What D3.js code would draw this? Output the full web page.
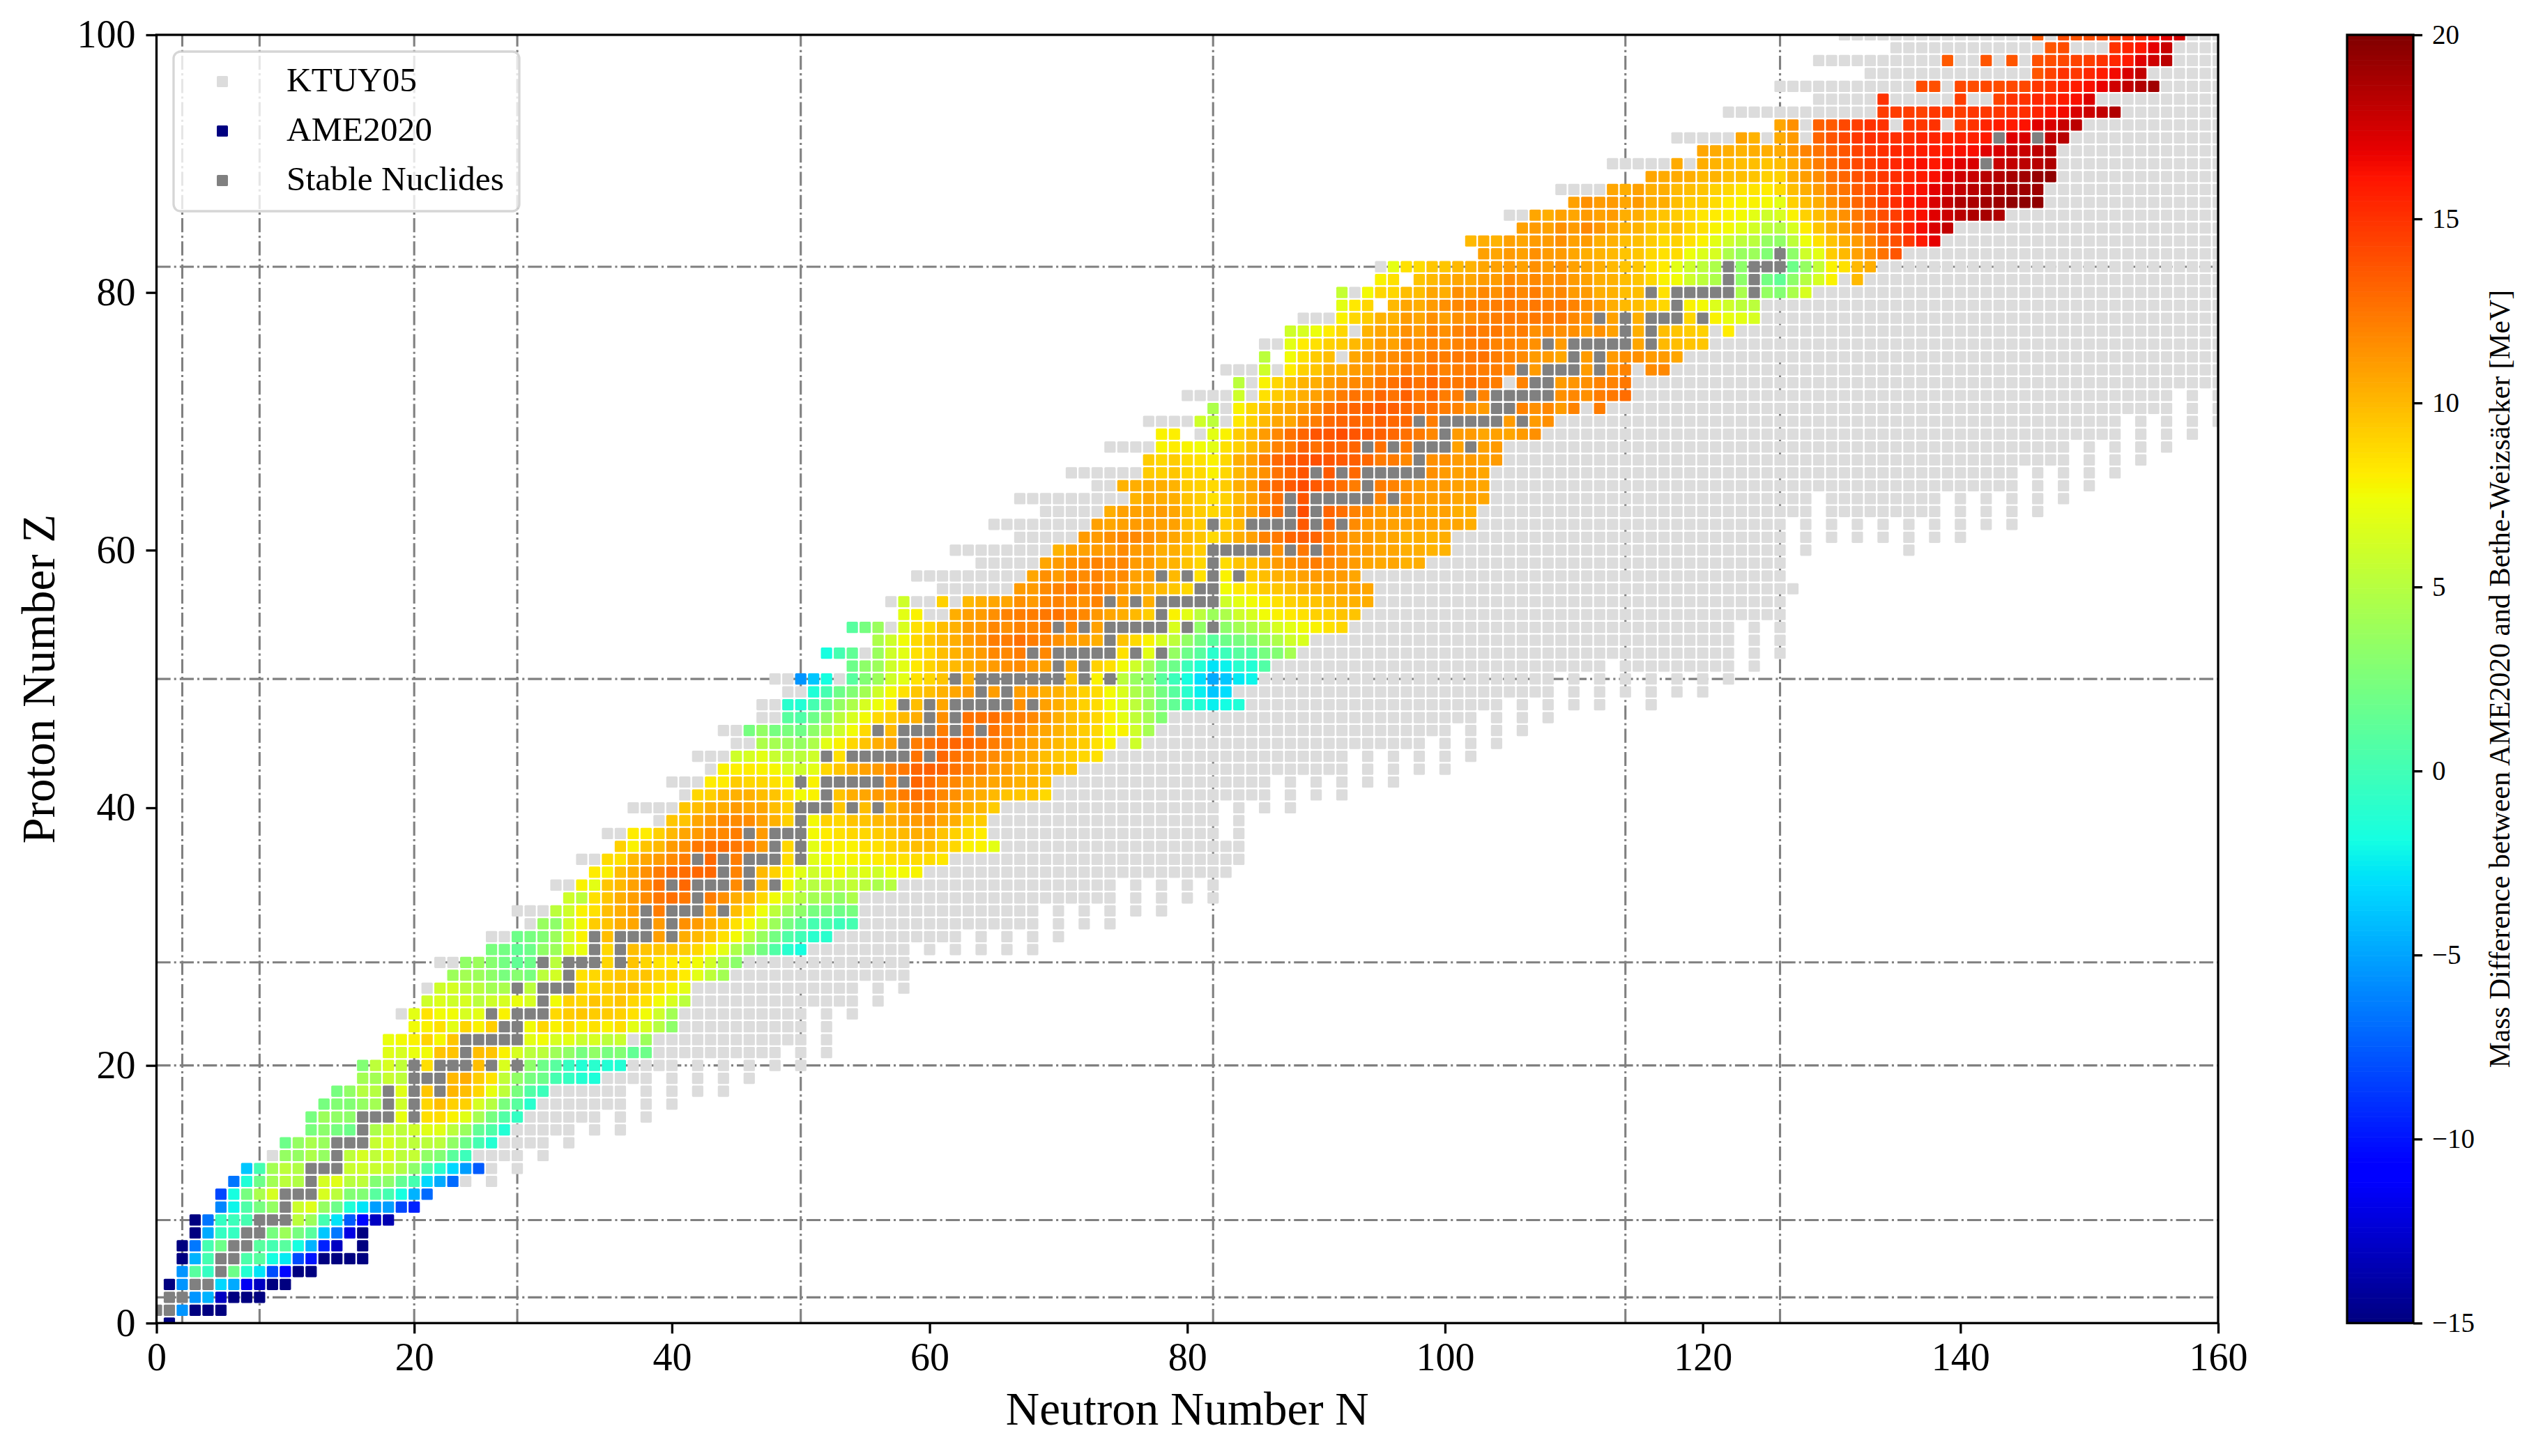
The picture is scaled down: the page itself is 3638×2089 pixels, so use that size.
<!DOCTYPE html>
<html><head><meta charset="utf-8"><title>Mass difference chart</title>
<script src="https://cdn.jsdelivr.net/npm/d3@7"></script>
<style>html,body{margin:0;padding:0;background:#fff}svg{display:block}text{font-family:"Liberation Serif","Times New Roman",serif;fill:#000}</style>
</head><body><div id="chart"></div>
<script>
const xTicks=[0,20,40,60,80,100,120,140,160];
const yTicks=[0,20,40,60,80,100];
const colorTicks=[-15,-10,-5,0,5,10,15,20];
const magicN=[2,8,20,28,50,82,114,126];
const magicZ=[2,8,20,28,50,82];
const legendLabels=["KTUY05","AME2020","Stable Nuclides"];
const axisLabels={x:"Neutron Number N",y:"Proton Number Z",color:"Mass Difference between AME2020 and Bethe-Weizsäcker [MeV]"};
// [Z, first N, values in MeV per consecutive N; s = stable nuclide, _ = no AME2020 mass]
const ameRows=[
[0,1,"-15"],
[1,0,"s s -5.5 -15 -15 -15"],
[2,1,"s s -5.5 -4.5 -13 -15 -15 -15"],
[3,1,"-15 -5.5 s s -3.2 -4.8 -11.5 -13 -15 -15"],
[4,2,"-5.5 1 -.5 s 1.9 -1.2 -2.8 -8 -10.5 -15 -15"],
[5,2,"-15 -4.5 .2 s s .5 1 -1.8 -2.6 -8 -10 -15 -15 -15 -15"],
[6,2,"-15 -6.5 .2 1.9 s s 1 .2 1 -1.8 -4.5 -9.5 -13 _ -15"],
[7,3,"-15 -4.8 -.5 -.5 s s 2.3 3.9 2.3 1 -3.8 -6.5 -12 -15"],
[8,3,"-15 -6.6 -.5 -.2 .2 s s s 5.2 3.9 .2 -2.8 -7.5 -10.5 -13 -13.5"],
[9,5,"-6 -2.2 .6 2.3 3.6 s 5.9 6.7 3.6 1.9 -1.4 -2.8 -5.2 -5.2 -8.2 -9.5"],
[10,5,"-8.2 -1.8 2.3 4.5 6.3 s s s 6.4 5.2 2.8 2.8 1 .2 -1.8 -4.5 -7"],
[11,6,"-6.6 -1.4 1.9 4.2 5.2 4.8 s 6.3 6.8 5.1 5.3 2.8 3.3 1.4 .2 -3.2 -4.8 -7"],
[12,7,"-3.8 .2 4.2 5.3 4.8 s s s 5.8 6 5.8 5.7 4.8 3.3 .7 -1 -3.2 -5.2 -7.5"],
[13,10,"3.6 3.6 4.6 3.6 s 5.3 6.3 5.4 6.5 5.3 5.6 3.4 2.8 1.1 -.2"],
[14,10,"1.9 3.6 4.5 3.8 s s s 5.7 6.3 5.4 5.3 5.2 5.2 3.4 1.9 .2 -1.2"],
[15,12,"2.4 3.2 2.3 1.9 s 4.6 5.7 5.3 6 6.8 6.8 5.2 3.8 1.4 .6 -1.3"],
[16,12,"2.3 3.9 3.4 3.3 s s s 7.1 s 8.6 8.7 7.9 6.8 4.3 2.3 .7 -.6"],
[17,13,"2.3 2.8 2.8 3.6 4.2 s 6 s 8.9 9.8 9.1 9.1 6.3 5 2.4 1 -1"],
[18,14,"2.3 3.4 5 5 s 6.8 s 9.5 s 10.1 9.8 8.9 7.1 5.3 2.4 .7 -.2"],
[19,16,"4.2 4.2 5.7 5.3 s s s 10 10.4 9.2 8.4 5.4 3.4 2.3 1.9 .2 -.5 -1.2 -1.5"],
[20,16,"2.8 5.3 6.4 5.4 s 8.6 s s s 9.8 s 6.5 s 3.3 1.9 1 -.5 -1.3 -1 -1.3 -1.3"],
[21,18,"6.8 6.4 7.2 7.5 9.6 9.6 s 9.8 9.6 7.9 6.4 5.2 5.2 4 3.4 2.3 3.4 2.3 2.8 1.4 1.9"],
[22,18,"7.2 7.6 7.9 9 7.7 9.5 s s s s s 6.9 7.5 6.4 6.9 5.8 6.4 5.2 5.8 _ 3.9"],
[23,20,"7.5 7.9 8.5 6.9 8.9 7.9 9.2 s s 7.5 8.9 7.9 8.8 7.9 8.5 7.9 8.6 6.9 6.4 5 3.3"],
[24,20,"6.9 8.4 7.5 7.5 6.4 6.9 s 7.9 s s s 8.8 9.3 9.5 9.3 9.3 9.1 8.5 7.5 6 4.2"],
[25,21,"6 6.6 6 6.4 5.2 6 6.4 7.2 6.4 s 7.5 9.1 8.9 9.6 9.1 9.6 8.9 8.5 7.5 6.4 5.2"],
[26,22,"6 6.3 5.2 5.2 4.2 4.5 s 5.2 s s s 8.9 8.9 9.3 9.5 9.8 8.9 8.5 7.9 6.9"],
[27,23,"3.9 4.2 3.9 3.3 2.4 3 2.4 5.2 6.2 s 8.5 8.9 9.1 9.6 9.3 9.6 8.9 9.1 8.1 6.9 5.3 4.2"],
[28,24,"3.4 3.9 3 2.2 1.4 1.9 s 5.2 s s s 8.9 s 9.6 8.9 8.4 8.1 7.9 7.5 6.2 4.6 3.2"],
[29,26,"2.4 2.2 1.4 1.9 3.4 3.9 6.4 7.2 s 8.9 s 9.8 9.6 9.5 9.6 9.3 8.9 7.9 6.9 4.6 3.4 2.2 .7 -1 -1.8"],
[30,28,"1.9 2.3 2.8 3.9 6.3 7.9 s 9.8 s s s 11 s 10.4 10 9.5 8.5 7.6 5.3 3.7 2.2 .7 0 -1 -1"],
[31,30,"3.7 3.3 6.1 7.6 9.3 9.6 10.4 10.7 s 11.1 s 11.5 11.1 10.4 9.8 8.5 7.6 6 3.9 2.3 1.4 .2 .5 -.2 .2"],
[32,31,"5.2 6 7.9 8.5 9.8 10.4 11 s 12.2 s s s 11 s 9.8 8.9 7.3 5.3 3.9 3.3 2.3 2.4 1.9 2.3"],
[33,32,"6 5.3 8.5 9.5 10.4 11 11.7 12.4 12.7 12.4 s 12.2 11.5 10.4 10 8.8 7.5 6 5 4.2 4.4 3.5 4.6"],
[34,33,"7.9 6.9 9.5 10 10.9 11.7 12.6 s 13 s s s 11.7 s 10 s 7.6 5.6 5 5.5 5 5.5 5.2 4.5 5"],
[35,34,"8.1 7.9 9.8 10.4 11.5 12.2 12.8 12.8 13 13 s 12 s 10 9.1 7.9 6.8 6 6.9 7.6 6 6.8 6 7.3 7.6 7.8"],
[36,35,"8.7 8.5 10 10.7 11.1 11.7 12.2 s 13 s 12.2 s s s 8.7 s 6.8 7.5 7.5 7.9 7.8 8.1 8.5 8.5 8.7 8.7 8.3"],
[37,36,"9.1 7.9 9.6 10 11.1 11.5 12.4 12.6 12.8 12.4 12.2 11.1 s 8.9 s 6.9 8.1 7.9 7.9 8.5 8.5 9.1 9.3 9.8 9.8 9.1 8.9 7.9 7.9 6.9"],
[38,37,"8.1 8.1 9.1 10 10.7 11.1 11.8 11.8 12.2 s 11.1 s s s 7.6 8.1 8.5 8.9 8.9 9.3 9.6 10 10.4 10.4 9.6 9.1 8.7 8.1"],
[39,40,"9.5 9.6 10.7 11.1 11.8 11.7 11.7 10.9 10.3 9.1 s 7.6 9.1 8.9 9.6 9.6 10 10.4 10.7 11.1 11.5 10.7 10.4 9.3 9.3"],
[40,41,"9.5 9.8 10.4 10.4 11.1 10.7 10.7 9.8 9.1 s s s 9.5 s 9.8 s 10.3 11.1 11.8 11.8 11.1 10.7 10.3 10 9.3"],
[41,42,"8.9 9.1 10 10.3 10.3 9.8 9.6 8.5 7.5 7.9 s 9.6 10.4 10.7 11.1 11.5 12.2 12.7 12.6 11.8 11.5 10.7 10.4 10 9.6 9.5 9.6 8.8"],
[42,43,"8.1 8.1 9.3 8.9 8.9 8.5 7.9 s 7.9 s s s s s 11.8 s 13.1 12.7 12 11.8 11.1 11.1 10.7 10.7 10.3 10.3 9.6"],
[43,44,"7.9 8 8.1 7.9 7.7 6.4 6 6.9 8.9 9.5 10.3 10.9 11.1 12 12.4 13.1 13.3 13.1 12.6 12.2 12 11.1 11.1 10.4 10.4 10 9.8 9.6"],
[44,45,"6 6.3 6.9 5.7 5.2 5.2 6 s 8.5 s s s s s 12.6 s 13 12.6 12.2 11.8 11.7 11.1 10.7 10.4 9.8 9.5 9.3 8.9 8.5"],
[45,47,"4.6 4.3 3.9 3.6 4.6 6.9 7.9 8.9 9.6 10.4 10.9 s 12.2 12.6 13 13.1 13 12.7 12.2 12 11.1 10.9 10.4 10 9.6 9.3 8.5 7.9 _ 6"],
[46,46,"2.3 3.5 2.3 2.4 2 3.3 4.6 6 7.5 8.8 s 10 s s s 12.2 s 12.6 s 12.6 11.8 12 11.1 10.7 10.3 9.8 9.3 8.9 7.6 7.9 6 4.3"],
[47,49,"1 .6 1.9 3.4 5.2 6.4 7.6 8.8 9.3 10 10.4 s 11.5 s 12.6 12.6 12.7 12.2 12.2 11.8 11.1 10.4 9.8 9.5 8.9 8.1 6.9 5.4 4.3 2.8"],
[48,49,"-1 -1.3 .2 1.9 3.6 4.6 6.4 7.3 8.1 s 9.8 s 10.7 s s s s s 11.5 s 10.9 10.4 9.8 9.1 8.7 7.6 6.8 5.3 3.9 2.3 1.4 -.6 -1.4 -2.4 -1.9 -1.4"],
[49,51,"-1.4 .2 1.9 2.8 4.2 6 7.6 8.5 9.5 9.8 10.3 10.7 11.1 s 11 s 11 11 10.4 10.3 9.8 9.1 8.7 7.6 6.5 4.6 3.9 2.2 1 -1 -2.4 -3.8 -3"],
[50,50,"-5.5 -3.8 -1.8 _ 1 2.8 3.9 6 6.9 8.5 8.9 9.6 s 10.3 s s s s s s s 9.5 s 7.9 s 5.2 3.7 3.2 1 -.2 -1.8 -3 -4.8 -3.8 -2.6 -2.2"],
[51,54,"1.9 3.3 3.9 6 6.9 8.2 9 9.6 10 10.4 10.7 11.1 11.5 11.7 11.1 10.9 s 10.4 s 9.1 8.6 7.5 6 4.3 2.3 1.9 -.2 -1.4 -2.8 -2.3 -1 -1.3 .7"],
[52,52,"-1.8 .2 1.4 _ 3.8 6 6.9 8.5 8.9 9.8 10.3 10.7 11.1 11.8 11.8 12.2 s 11.8 s s s s s 8.5 s 6.9 s 3.6 1.9 1 -1 -.2 1 .7 2.3 2.8 4.3"],
[53,56,"4.6 6 7.5 8.8 9.5 10 10.4 11.1 11.5 12.2 12.2 12.7 12.2 12 11.5 11.1 10.9 10.4 s 9.6 8.8 7.9 6.4 5.3 3.5 2.3 1 1.9 2.3 2.8 3.9 4.6 6 6.5"],
[54,54,"1 2.3 3.8 _ 6.5 8.5 8.9 9.8 10.3 11.1 11.1 11.8 11.5 12 11.9 12.2 s 11.8 s 10.9 s s s s s 6.5 s 3.4 s 3.3 4.2 4.6 5.3 6.4 6.9 7.5 7.9 8.5 8.9"],
[55,58,"6.9 7.9 _ _ 10.4 10.9 11.1 11.5 12 12.2 12.2 12.4 12.6 12.2 11.8 11.2 10.7 10.4 10 9.2 s 7.9 6.9 5.2 3.9 4.6 6 6.4 7.5 7.9 8.2 8.5 9.1 9.1 9.6 9.6"],
[56,58,"6 _ _ 9.1 _ 10 10.4 10.7 10.7 11.5 11.1 11.8 12 11.7 11.5 12 s 11 s 10.4 s s s s s 6 6.9 7.5 7.9 8.5 9.1 9.3 9.6 10 10.3 10.3 10.4"],
[57,67,"11.1 11.1 11.7 12 12.4 11.8 12 11.7 11.1 10.7 10.4 10 9.5 8.9 s s 7.5 8.2 8.5 9.3 9.5 9.8 10.3 10.4 10.7 10.7 10.9 10.7"],
[58,68,"10.7 11.5 11.1 11.8 11.7 12 11.5 11.7 10.9 10.9 s 10 s 8.5 s 7.9 s 9.3 9.8 10.3 10.4 10.9 11.1 11.1 11.1 10.7"],
[59,69,"10.7 11.1 11.5 11.7 12 11.8 11.8 11.1 11.1 10.4 10.2 9.6 8.9 s 8.7 9.6 9.8 10.4 11.1 11.5 11.8 12.2 11.8 11.5 11.1 10.7 10.6 10.7 10.3 10.4"],
[60,70,"10.2 10.9 10.9 11.1 11.1 11.7 11.1 11.1 10.4 10.4 9.8 9.3 s s s s s 11.5 s 12.4 s 12.2 11.7 11.1 11.1 10.7 10.7 10.4 10.4 10.2 10.2"],
[61,72,"11.1 11.1 11.5 11.8 11.8 11.5 11.1 10.7 10 9.5 8.8 9.5 10.4 10.9 12 12.4 13.1 13.3 13.1 12.2 11.7 11.1 11.1 10.7 10.7 10.2 10.4 10.2 10.4"],
[62,73,"10.9 10.7 10.9 11.1 11.1 10.9 10.9 9.8 9.3 s 9.3 10 s s s s 13.5 s 13 s 11.7 11.1 11.1 10.9 10.9 10.9 10.9 10.7 10.7 10.4"],
[63,74,"10.4 10.9 10.9 10.9 11.1 10.7 9.8 9.3 8.9 9.3 10.4 10.9 12.2 12.7 s 14 s 13.1 12.7 12 11.7 11.1 11.1 11.1 10.9 10.7 10.9 10.4 10.4"],
[64,76,"10.2 10.7 10.4 10.4 9.6 9.3 8.5 9.1 10 10.7 11.8 12.7 s 13.7 s s s s s 12 s 11.5 11.1 11 11.1 10.7 10.9 10.7"],
[65,75,"10.2 10.4 10.4 10.4 10.2 9.3 9.1 8.8 9.3 10.4 10.9 12.6 13 13.5 14 13.5 13.3 12.7 12.2 s 12.2 12 11.5 11.1 11.1 11.1 10.9 10.9 10.7"],
[66,77,"9.3 9.1 9.5 8.9 8.8 7.9 8.9 10 10.7 11.5 12.6 13 13.7 s 13.5 s 13 s s s s s 11.5 11.1 10.9 11.1 10.7"],
[67,77,"9.3 8.9 9.3 8.7 8.5 7.9 8.9 10.4 10.9 12.2 13 13.5 13.7 13.9 13.7 13.5 13.3 13 12.3 12.3 11.8 s 11.5 11.5 11.1 11.1 10.9 11.1"],
[68,78,"7.8 8.1 7.8 7.5 6.9 8.5 9.1 10 10.9 12 12.2 13.3 12.7 13.3 13.1 13.1 s 12.7 s 12.3 s s s 10.9 s 10.9 11.1"],
[69,78,"7.9 8 _ _ 6.9 7.9 9.3 10 11.1 11.8 12.7 13.1 13.7 13.7 14 13.7 13.5 13.3 13 12.7 12.3 11.8 s 11.1 11.1 10.7 10.9 10.7 11.1 11.5"],
[70,81,"6 5.3 _ 8.2 9.1 10 10.7 10.7 11.8 12.2 13 13.1 13.1 12.7 13.3 13 13 s 12.2 s s s s s 11.1 s 11.1 11.5"],
[71,82,"4.6 _ 7.9 8.9 9.8 10.4 10.7 11.1 11.8 12.6 13 13.1 13.3 13.5 13.3 13 12.7 12.6 12.2 12 11.5 11.1 s s 12 11.5 11.8 11.1 12 _ 12.2"],
[72,84,"6 _ 8.5 9.3 9.8 10.4 10.9 11.5 12.2 12.6 12.2 13 12.6 13.3 12.4 13 12.2 12.2 s 12 s s s s s 11.5 11.8 11.5 12.2 12.4 12.8"],
[73,84,"5.2 _ 7.9 8.9 9.6 10.2 10.4 11.1 11.5 11.8 11.8 12.4 12.7 13.1 12.6 13.1 12.6 12.4 12.7 12.4 12.2 _ 12 s s 11.1 11.3 11.5 12 12 12.4"],
[74,86,"6 _ 8.1 9.1 9.5 10.4 10.4 11.1 11.1 11.8 11.7 12.4 12 12.6 12 12.2 12.4 12.2 12.2 12 s 11.1 s s s 11.1 s 11.5 12 _ 11.7 11.8"],
[75,86,"5.2 _ 7.5 8.5 9.3 9.8 _ 10.7 11.1 11.5 11.7 12 11.8 12.4 12.2 12.4 12.4 12.6 12.2 12 11.7 11.1 11.1 10.7 s 11.1 s 11.1 11.5 11.5 11.1 11.1 10.7"],
[76,88,"6.9 8.1 8.5 9.1 9.3 10 10.4 11.1 10.9 11.8 11.5 12 11.7 12 12.2 12.4 12 12 11.8 11.5 s 11.1 s s s s s 10.7 s 10 9.8 9.6 9.5"],
[77,88,"6 6.4 7.3 8.1 8.9 _ 10.2 10.7 10.7 11.5 11.1 12 11.5 12 12.4 12.2 12.4 12 12.2 11.5 11.8 11.5 11.5 11.1 11.5 10.9 s 10.4 s 9.8 9.6 9.3 9.1 _ 8.1"],
[78,92,"7.9 8.9 9.3 10.2 10.2 11.1 10.7 11.5 10.9 11.5 11.5 12 12.2 12.4 12.2 12.4 12.2 12.4 11.8 11.5 s 10.9 s 10.4 s s s 8.9 s 7.9 7.1 6.9 6.4"],
[79,92,"6.9 8.2 8.9 _ 10 10.7 10.4 11.1 11.5 11.8 12.2 12 12.2 12.4 12.2 12.4 12.2 12.4 12 11.5 11.1 10.4 10 9.8 9.5 8.9 s 7.9 7.6 6.6 6 5.3 5.2"],
[80,92,"5.6 _ 7.6 8.9 8.9 9.8 9.8 10.7 10.4 11.5 11.1 11.8 11.5 12.2 11.8 12.2 11.5 11.8 11.1 11.1 10.4 10.3 9.8 9.8 s 8.5 s s s s s 4.5 s 3.6 2.9 4.5 6.4"],
[81,95,"7.9 8.5 _ 9.6 10 10.4 10.7 10.7 11.1 11.1 11.8 11.5 11.8 11.5 11.7 11.1 10.9 10.4 10.3 9.8 9.6 8.9 7.9 7.5 6 5.3 4.6 s 3.3 s 2.2 1.4 3.3 5 6.3 7.9 _ 10"],
[82,96,"7 8.5 8.7 9.5 9.5 10 10.2 10.7 10.9 11.1 10.9 11.5 11.1 11.5 10.9 10.7 10.4 10 9.6 9.5 8.5 8.1 6.9 6 5.3 4.6 s 3.3 s s s 1.9 3.6 5.5 7.9 8.5 10 10.4"],
[83,103,"10.9 10.7 11.1 10.9 11.5 11.1 11.1 10.7 10.4 10.2 10 9.6 9.5 8.9 8.5 8.7 7.3 6.6 6.4 4.6 3.7 3.9 2.8 s 3.3 6 6.9 9.3 10 10.9 11.5 12.6 13.7"],
[84,102,"10 10.4 10.2 10.9 10.7 11.1 11.1 11.5 10.9 11.1 10.4 10.3 9.8 9.8 9.3 8.7 9.1 8.5 7.9 6.9 6 5.3 5.2 3.6 3.4 5.3 7.3 8.5 9.6 10.4 11.1 12 13 13.9 14.8 15.9 16.9"],
[85,106,"10.9 11.1 10.9 11.5 11.1 11.8 11.3 10.7 10.2 10.2 9.6 9.3 9.8 8.9 8.5 7.8 7.6 6.9 6.2 5.3 5 6.4 8.1 9.5 10.5 11.2 12.2 12.8 13.9 14.6 15.5 16.4 17.3 18"],
[86,107,"10.7 10.4 10.9 10.7 11.1 10.9 11.1 10.4 10.4 9.8 9.6 9.3 8.9 8.3 8.1 7.9 7.6 6.9 6 6.4 7.9 9.1 9.8 10.7 11.5 12.4 13.1 14 14.6 15.5 16.3 17.1 17.7 18.3 18.6 18.8 18.6"],
[87,110,"10.9 11.5 11.1 11.1 10.7 11.1 10.4 10.4 9.8 9.3 9.3 8.7 8.1 7.8 7.9 7.6 6.9 9.1 9.8 10.4 11.5 12.2 13.1 13.7 14.6 15.2 16 16.3 17.3 17.9 18.6 18.7 19 19.1 19.5 19.6 19.5"],
[88,113,"10.7 10.4 10.9 10.4 10.4 10 9.8 9.6 9.1 8.9 8.4 8.4 8.1 8.7 9.8 10.4 11.1 12.2 12.6 13.5 14 14.8 15.2 15.9 16.3 17 17.6 18 18.3 18.6 18.8 19.1 19.1 19.1"],
[89,116,"10.7 10.5 10.5 10.4 10 10.2 9.8 9.8 9.6 9.1 9.1 10.4 11 11.6 12.6 13.1 13.9 14.2 14.8 15.2 15.5 15.9 16.3 17.2 17.6 17.8 18.3 18.4 18.8 19 19.3 19.5"],
[90,118,"10.5 _ 10.4 10.2 10 9.8 9.8 9.6 9.8 10.5 11.3 12.2 13 13.6 14.2 14.6 15.2 15.4 15.9 16.3 16 16.5 17.1 17.3 s 17.8 18 18.2 18.3 18.6"],
[91,120,"10.7 10.5 10.4 10.2 10.4 10.4 10.5 11.2 12 12.6 13.3 13.7 14.4 14.8 15.2 15.4 15.6 15.8 15.8 15.9 16.3 16.3 17.1 17.3 17.8 17.8 18.1 18.4"],
[92,123,"10.7 10.2 _ 10.5 11.1 _ 13.1 13.7 14.2 14.8 15.2 15.2 15.1 15.2 15.5 15.5 15.5 15.6 15.6 15.9 s 17.1 17.3 s 18 18.3"],
[93,126,"10.7 11.5 _ 13.3 13.5 14.2 14.6 15 15 _ 14.8 14.8 15 _ 14.6 15 15.5 15.8 15.9 16.2 17.1 17.3 17.8 18.2"],
[94,134,"14.6 14.6 14.6 14.4 14.8 14.6 14.6 14.8 14.8 14.8 15 15.2 15.5 16 16.5 17.3 17.7 18 18.5"],
[95,134,"15 _ _ _ _ _ 14.6 _ _ 14.4 15 15 15.4 15.4 15.9 16.3 17.2"],
[96,137,"14 13.9 _ 14.2 14 14.2 14 14.2 14.2 14.8 15 15.5 15.9 16.3 16.8 17.6 18 18.5 19"],
[97,146,"13.7 14.4 15 14.8 15.4 15.8 16.5 17.3 18"],
[98,139,"13.5 _ _ 13.7 _ 13.7 _ 13.9 14 14.2 14.4 14.6 15 15.4 15.9 17.1 17.6 18.2"],
[99,147,"13.7 14 _ _ _ 15 15.5 16 16.9 17.8"],
[100,146,"13.5 _ 14 13.7 14 14.2 14.6 15 15.4 16 17 17.5"]
];
// [Z, N values or ranges of nuclides predicted by KTUY05 where no AME2020 mark covers them]
const ktuyRows=[
[11,"24 26"],[12,"26 28"],[13,"9 25-28 30"],[14,"27-30 32"],[15,"28-32 34 36"],[16,"29-34 36 38"],
[17,"30-36 38 40"],[18,"31-36 38 40 42 44"],[19,"35-38 40 42 44 46"],[20,"37-40 42 44 46 48 50"],
[21,"39-48 50 52"],[22,"37 39-50 52"],[23,"41-50 52"],[24,"19 41-50 52 54"],[25,"42-54 56"],[26,"21 42-54 56 58"],
[27,"45-58"],[28,"22 23 46-58"],[29,"51-58 60 62 64 66 68"],[30,"26 27 53-62 64 66 68 70"],[31,"29 55-68 70 72 74"],
[32,"28-30 55-68 70 72 74 76 78"],[33,"55-74 76 78 80 82"],[34,"31 32 58-74 76 78 80 82"],[35,"60-83"],[36,"33 34 62-84"],
[37,"66-84"],[38,"35 36 65-82 84"],[39,"39 65-82 84"],[40,"37-40 66-82 84 86 88"],[41,"41 70-86 88 90 92"],
[42,"40-42 70-86 88 90 92 94 96"],[43,"43 72-92 94 96 98 100"],[44,"42-44 74-92 94 96 98 100 102"],[45,"45 46 75 77-98 100 102 104"],
[46,"44 45 78-100 102 104 106"],[47,"47 48 79-102 104 106 108"],[48,"47 48 85-104 106 108 110 112 116"],
[49,"49 50 84-108 110 112 114 116 118 120"],[50,"48 49 53 86-108 110 112 114 116 118 120 122"],[51,"87-112 114-122 124"],
[52,"55 89-122 124 126"],[53,"90-122 124 126"],[54,"57 93-122 124 126"],[55,"60 61 94-126"],[56,"57 59 60 62 95-126"],
[57,"61-66 95-127"],[58,"59-67 94-126"],[59,"64-68 99-126"],[60,"62-69 101-126 128 136"],
[61,"67-71 101-126 128 130 132 134 136 138 140"],[62,"65-72 103-126 128 130 132 134 136 138 140 142 144"],
[63,"69-73 103-128 130-138 140 142 144 146"],[64,"67-75 104-128 130-138 140 142 144 146 148"],[65,"73 74 104-144 146 148 150"],
[66,"71-76 104-144 146 148 150 152"],[67,"105-148 150 152 154"],[68,"74-77 105-148 150 152 154 156"],[69,"81 108-152 154 156 158"],
[70,"77-80 83 109-152 154 156 158 160"],[71,"83 111 113-156 158 160"],[72,"80-83 85 115-156 158 160"],[73,"85 105 115-160"],
[74,"83-85 87 115 118-160"],[75,"92 119-160"],[76,"86 87 121-160"],[77,"93 121 123-160"],[78,"89-91 125-160"],[79,"125-160"],
[80,"93 129-160"],[81,"131 133-160"],[82,"95 134-160"],[83,"136-160"],[84,"139-160"],[85,"140-160"],[86,"105 106 144-160"],
[87,"147-160"],[88,"109-112 147-160"],[89,"148-160"],[90,"113-117 119 148-160"],[91,"148-160"],[92,"118-122 125 128 149-160"],
[93,"128 135 139 150-160"],[94,"122-133 153-160"],[95,"129-133 135-139 141 142 151-160"],[96,"126-136 139 156-160"],
[97,"133-145 155-160"],[98,"129-138 140 141 143 145 157-160"],[99,"135-146 149-151 157-160"],[100,"131-145 147 158-160"]
];

const W=3638,H=2089;
const plot={l:224.5,r:3182,t:50,b:1898.3};
const bar={l:3367,r:3462};
const KTUY="#dcdcdc",STABLE="#808080",CELL=16.2;

// matplotlib "jet" colormap anchor points
const seg=(p,t)=>{for(let i=1;i<p.length;i++){if(t<=p[i][0]){const a=p[i-1],b=p[i];return a[1]+(b[1]-a[1])*(t-a[0])/(b[0]-a[0]);}}return p[p.length-1][1];};
const jet=t=>d3.rgb(255*seg([[0,0],[.35,0],[.66,1],[.89,1],[1,.5]],t),255*seg([[0,0],[.125,0],[.375,1],[.64,1],[.91,0],[1,0]],t),255*seg([[0,.5],[.11,1],[.34,1],[.65,0],[1,0]],t)).formatRgb();

const x=d3.scaleLinear().domain([0,160]).range([plot.l,plot.r]);
const y=d3.scaleLinear().domain([0,100]).range([plot.b,plot.t]);
const cy=d3.scaleLinear().domain([-15,20]).range([plot.b,plot.t]);
const color=d3.scaleSequential(jet).domain([-15,20]);

const ktuy=ktuyRows.flatMap(([z,s])=>s.split(" ").flatMap(p=>{const [a,b]=p.split("-").map(Number);return d3.range(a,(b===undefined?a:b)+1).map(n=>({n,z}));}));
const ame=ameRows.flatMap(([z,start,s])=>s.split(" ").map((t,i)=>({n:start+i,z,t}))).filter(d=>d.t!=="_");
const measured=ame.filter(d=>d.t!=="s").map(d=>({n:d.n,z:d.z,v:+d.t}));
const stable=ame.filter(d=>d.t==="s");

const svg=d3.select("#chart").append("svg").attr("width",W).attr("height",H).attr("viewBox",`0 0 ${W} ${H}`);
svg.append("rect").attr("width",W).attr("height",H).attr("fill","#fff");
svg.append("clipPath").attr("id","pc").append("rect").attr("x",plot.l).attr("y",plot.t).attr("width",plot.r-plot.l).attr("height",plot.b-plot.t);

const dash="20.2 5 3.1 5";
const grid=svg.append("g").attr("stroke","#808080").attr("stroke-width",3.1).attr("stroke-dasharray",dash).attr("fill","none");
grid.selectAll(".v").data(magicN).join("line").attr("x1",d=>x(d)).attr("x2",d=>x(d)).attr("y1",plot.b).attr("y2",plot.t);
grid.selectAll(".h").data(magicZ).join("line").attr("y1",d=>y(d)).attr("y2",d=>y(d)).attr("x1",plot.l).attr("x2",plot.r);

const cells=svg.append("g").attr("clip-path","url(#pc)");
const cell=(sel,fill)=>sel.join("rect").attr("x",d=>x(d.n)-CELL/2).attr("y",d=>y(d.z)-CELL/2).attr("width",CELL).attr("height",CELL).attr("rx",1.6).attr("fill",fill);
cell(cells.append("g").selectAll("rect").data(ktuy),KTUY);
cell(cells.append("g").selectAll("rect").data(measured),d=>color(d.v));
cell(cells.append("g").selectAll("rect").data(stable),STABLE);

function styleAxis(g,size){
  g.select(".domain").remove();
  g.selectAll(".tick line").attr("stroke","#000").attr("stroke-width",3.3);
  g.selectAll(".tick text").attr("font-size",size).attr("fill","#000").attr("font-family",'"Liberation Serif",serif');
}
svg.append("g").attr("transform",`translate(0,${plot.b})`).call(d3.axisBottom(x).tickValues(xTicks).tickFormat(d3.format("d")).tickSize(15).tickPadding(13)).call(styleAxis,56);
svg.append("g").attr("transform",`translate(${plot.l},0)`).call(d3.axisLeft(y).tickValues(yTicks).tickFormat(d3.format("d")).tickSize(15).tickPadding(15)).call(styleAxis,56);
svg.append("rect").attr("x",plot.l).attr("y",plot.t).attr("width",plot.r-plot.l).attr("height",plot.b-plot.t).attr("fill","none").attr("stroke","#000").attr("stroke-width",3.3);

svg.append("text").attr("x",(plot.l+plot.r)/2).attr("y",2044).attr("text-anchor","middle").attr("font-size",67).text(axisLabels.x);
svg.append("text").attr("transform",`translate(78,${(plot.t+plot.b)/2}) rotate(-90)`).attr("text-anchor","middle").attr("font-size",67).text(axisLabels.y);

// legend
const lg=svg.append("g");
lg.append("rect").attr("x",249).attr("y",74).attr("width",496).attr("height",229).attr("rx",10).attr("fill","#fff").attr("fill-opacity",.8).attr("stroke","#cccccc").attr("stroke-opacity",.8).attr("stroke-width",3.3);
const legendFill=[KTUY,color(-15),STABLE];
const legendY=d3.scalePoint().domain(legendLabels).range([117,259]);
lg.selectAll("rect.k").data(legendLabels).join("rect").attr("class","k").attr("x",311).attr("y",d=>legendY(d)-8).attr("width",16).attr("height",16).attr("rx",1.6).attr("fill",(d,i)=>legendFill[i]);
lg.selectAll("text").data(legendLabels).join("text").attr("x",411).attr("y",d=>legendY(d)+14).attr("font-size",49.5).text(d=>d);

// colour bar
const strips=d3.range(256);
svg.append("g").selectAll("rect").data(strips).join("rect")
 .attr("x",bar.l).attr("width",bar.r-bar.l)
 .attr("y",i=>plot.t+(255-i)*(plot.b-plot.t)/256).attr("height",(plot.b-plot.t)/256+.6)
 .attr("fill",i=>jet((i+.5)/256));
svg.append("g").attr("transform",`translate(${bar.r},0)`).call(d3.axisRight(cy).tickValues(colorTicks).tickSize(13).tickPadding(14)).call(styleAxis,39);
svg.append("rect").attr("x",bar.l).attr("y",plot.t).attr("width",bar.r-bar.l).attr("height",plot.b-plot.t).attr("fill","none").attr("stroke","#000").attr("stroke-width",3.3);
svg.append("text").attr("transform",`translate(3600,${(plot.t+plot.b)/2}) rotate(-90)`).attr("text-anchor","middle").attr("font-size",41.7).text(axisLabels.color);
</script></body></html>
